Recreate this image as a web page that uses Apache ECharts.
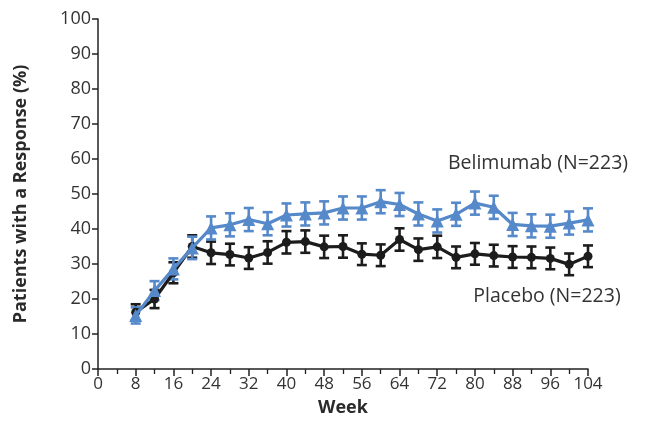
<!DOCTYPE html>
<html>
<head>
<meta charset="utf-8">
<script src="https://cdn.jsdelivr.net/npm/echarts@6/dist/echarts.min.js"></script>
<style>
  html, body { margin: 0; padding: 0; background: #ffffff; }
  #chart { width: 671px; height: 440px; }
</style>
</head>
<body>
<div id="chart"></div>
<script>
// Weeks of assessment
const weeks = [8, 12, 16, 20, 24, 28, 32, 36, 40, 44, 48, 52, 56, 60, 64, 68, 72, 76, 80, 84, 88, 92, 96, 100, 104];

// Response rates (%) per arm
const placebo = [16.2, 20.0, 27.5, 35.0, 33.2, 32.7, 31.7, 33.3, 36.2, 36.4, 34.9, 35.0, 32.8, 32.5, 37.0, 34.1, 34.9, 31.9, 32.9, 32.4, 32.0, 31.9, 31.6, 29.9, 32.2];
const belimumab = [15.3, 22.4, 28.6, 34.6, 40.3, 41.2, 42.7, 41.5, 44.0, 44.3, 44.6, 46.0, 46.0, 47.8, 47.0, 44.3, 42.3, 44.2, 47.4, 46.2, 41.3, 40.9, 40.8, 41.7, 42.6];

// Standard errors (percentage points) per arm
const placeboErr = [2.3, 2.6, 3.0, 3.2, 3.2, 3.1, 3.1, 3.2, 3.2, 3.2, 3.2, 3.2, 3.1, 3.1, 3.2, 3.2, 3.2, 3.1, 3.1, 3.1, 3.1, 3.1, 3.1, 3.1, 3.1];
const belimumabErr = [2.3, 2.7, 3.0, 3.2, 3.3, 3.3, 3.3, 3.3, 3.3, 3.3, 3.3, 3.3, 3.3, 3.3, 3.3, 3.3, 3.3, 3.3, 3.3, 3.3, 3.3, 3.3, 3.3, 3.3, 3.3];

// Axis ticks
const xTicks = [0, 8, 16, 24, 32, 40, 48, 56, 64, 72, 80, 88, 96, 104];
const yTicks = [0, 10, 20, 30, 40, 50, 60, 70, 80, 90, 100];

const labelBelimumab = 'Belimumab (N=223)';
const labelPlacebo = 'Placebo (N=223)';

const BLUE = '#5689c9';
const BLACK = '#1c1c1c';
const FONT = '"Open Sans", Lato, sans-serif';

function errorSeries(values, errs, color) {
  return {
    type: 'custom',
    silent: true,
    data: weeks.map((w, i) => [w, values[i] - errs[i], values[i] + errs[i]]),
    renderItem: function (params, api) {
      const x = api.value(0);
      const lo = api.coord([x, api.value(1)]);
      const hi = api.coord([x, api.value(2)]);
      const half = 5;
      const st = { stroke: color, lineWidth: 2.6 };
      return {
        type: 'group',
        children: [
          { type: 'line', shape: { x1: lo[0], y1: lo[1], x2: hi[0], y2: hi[1] }, style: st },
          { type: 'line', shape: { x1: lo[0] - half, y1: lo[1], x2: lo[0] + half, y2: lo[1] }, style: st },
          { type: 'line', shape: { x1: hi[0] - half, y1: hi[1], x2: hi[0] + half, y2: hi[1] }, style: st }
        ]
      };
    },
    encode: { x: 0, y: [1, 2] }
  };
}

const chart = echarts.init(document.getElementById('chart'), null, { renderer: 'canvas' });

chart.setOption({
  animation: false,
  backgroundColor: '#ffffff',
  grid: { left: 98, right: 83, top: 19, bottom: 71 },
  xAxis: {
    type: 'value',
    min: 0,
    max: 104,
    interval: 8,
    name: 'Week',
    nameLocation: 'middle',
    nameGap: 30,
    nameTextStyle: { fontFamily: FONT, fontSize: 18, fontWeight: 'bold', color: '#2a2a2a' },
    axisLine: { show: true, lineStyle: { color: '#222', width: 1.5 } },
    axisTick: { show: true, length: 7, lineStyle: { color: '#222', width: 1.5 } },
    minorTick: { show: true, splitNumber: 2, length: 5, lineStyle: { color: '#222', width: 1.3 } },
    splitLine: { show: false },
    axisLabel: {
      fontFamily: FONT, fontSize: 17, color: '#333', margin: 7,
      formatter: v => (xTicks.indexOf(v) >= 0 ? String(v) : '')
    }
  },
  yAxis: {
    type: 'value',
    min: 0,
    max: 100,
    interval: 10,
    name: 'Patients with a Response (%)',
    nameLocation: 'middle',
    nameGap: 68,
    nameTextStyle: { fontFamily: FONT, fontSize: 18, fontWeight: 'bold', color: '#2a2a2a' },
    axisLine: { show: true, lineStyle: { color: '#222', width: 1.5 } },
    axisTick: { show: true, length: 6, lineStyle: { color: '#222', width: 1.5 } },
    splitLine: { show: false },
    axisLabel: {
      fontFamily: FONT, fontSize: 18, color: '#333', margin: 7,
      formatter: v => (yTicks.indexOf(v) >= 0 ? String(v) : '')
    }
  },
  series: [
    errorSeries(placebo, placeboErr, BLACK),
    {
      name: labelPlacebo,
      type: 'line',
      data: weeks.map((w, i) => [w, placebo[i]]),
      symbol: 'circle',
      symbolSize: 9,
      lineStyle: { color: BLACK, width: 3.2 },
      itemStyle: { color: BLACK },
      z: 3
    },
    errorSeries(belimumab, belimumabErr, BLUE),
    {
      name: labelBelimumab,
      type: 'line',
      data: weeks.map((w, i) => [w, belimumab[i]]),
      symbol: 'triangle',
      symbolSize: 13,
      lineStyle: { color: BLUE, width: 3.2 },
      itemStyle: { color: BLUE },
      z: 5
    }
  ],
  graphic: [
    {
      type: 'text', x: 538, y: 163,
      style: { text: labelBelimumab, font: '19.5px ' + FONT, fill: '#333', textAlign: 'center', textVerticalAlign: 'middle' }
    },
    {
      type: 'text', x: 547, y: 296,
      style: { text: labelPlacebo, font: '19.5px ' + FONT, fill: '#333', textAlign: 'center', textVerticalAlign: 'middle' }
    }
  ]
});
</script>
</body>
</html>
